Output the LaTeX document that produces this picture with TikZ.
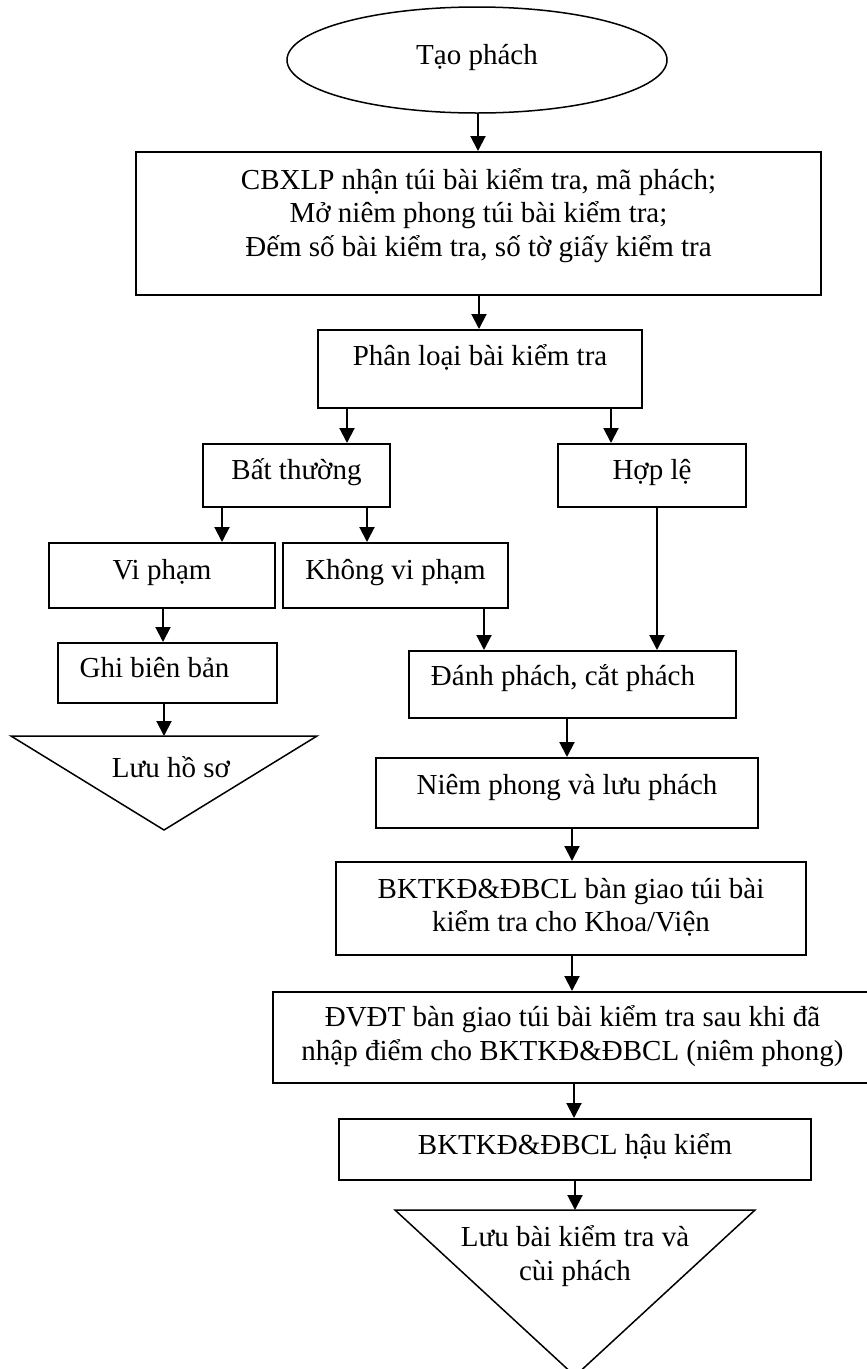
\documentclass[tikz,border=0pt]{standalone}
\usepackage{fontspec}
\setmainfont{Liberation Serif}
\usetikzlibrary{arrows.meta, shapes.geometric}

\begin{document}
\begin{tikzpicture}[x=1pt, y=-1pt, line width=2pt,
  font=\fontsize{29}{33.5}\selectfont,
  box/.style={draw, align=center, inner sep=0pt},
  keep/.style={align=center, inner sep=0pt},
  arr/.style={-{Triangle[length=15pt, width=15pt]}}]
  \useasboundingbox (0,0) rectangle (867,1369);

  \node[ellipse, draw, line width=1.5pt, inner sep=0pt, minimum width=380pt, minimum height=106pt,
        text height=21pt, text depth=13pt] (start) at (477,60) {Tạo phách};
  \node[box, minimum width=685pt, minimum height=143pt, text depth=23pt] (recv) at (478.5,223.5)
    {CBXLP nhận túi bài kiểm tra, mã phách;\\ Mở niêm phong túi bài kiểm tra;\\ Đếm số bài kiểm tra, số tờ giấy kiểm tra};
  \node[box, minimum width=324pt, minimum height=78pt, text height=21pt, text depth=29pt] (classify) at (480,369) {Phân loại bài kiểm tra};
  \node[box, minimum width=187pt, minimum height=63pt, text height=21pt, text depth=14pt] (abnormal) at (296.5,475.5) {Bất thường};
  \node[box, minimum width=188pt, minimum height=63pt, text height=21pt, text depth=14pt] (valid) at (652,475.5) {Hợp lệ};
  \node[box, minimum width=226pt, minimum height=65pt, text height=21pt, text depth=14pt] (violate) at (162,575.5) {Vi phạm};
  \node[box, minimum width=225pt, minimum height=65pt, text height=21pt, text depth=14pt] (noviolate) at (395.5,575.5) {Không vi phạm};
  \node[box, minimum width=219pt, minimum height=60pt, text height=21pt, text depth=13pt] (record) at (167.5,673) {Ghi biên bản\hspace*{26pt}};
  \node[keep, minimum width=304pt, minimum height=92pt, text height=21pt, text depth=33pt] (keep1) at (164,783) {\hspace*{14pt}Lưu hồ sơ};
  \node[box, minimum width=327pt, minimum height=67pt, text height=21pt, text depth=20pt] (cut) at (572.5,684.5) {Đánh phách, cắt phách\hspace*{19pt}};
  \node[box, minimum width=382pt, minimum height=70pt, text height=21pt, text depth=19pt] (sealbox) at (567,793) {Niêm phong và lưu phách};
  \node[box, minimum width=470pt, minimum height=93pt, text depth=7pt] (handover) at (571,908.5)
    {BKTKĐ\&ĐBCL bàn giao túi bài\\ kiểm tra cho Khoa/Viện};
  \node[box, minimum width=599pt, minimum height=91pt, text depth=9pt] (dvdt) at (572.5,1037.5)
    {ĐVĐT bàn giao túi bài  kiểm tra sau khi đã\\ nhập điểm cho BKTKĐ\&ĐBCL (niêm phong)};
  \node[box, minimum width=472pt, minimum height=61pt, text height=21pt, text depth=12pt] (postcheck) at (575,1149.5) {BKTKĐ\&ĐBCL hậu kiểm};
  \node[keep, minimum width=358pt, minimum height=164pt, text depth=80pt] (keep2) at (575,1293)
    {Lưu bài kiểm tra và\\ cùi phách};

  \draw[line width=1.5pt] (keep1.north west) -- (keep1.north east) -- (keep1.south) -- cycle;
  \draw[line width=1.5pt] (keep2.north west) -- (keep2.north east) -- (keep2.south) -- cycle;

  \foreach \a/\b/\x in {start/recv/478, recv/classify/479, classify/abnormal/347, classify/valid/611,
      abnormal/violate/222, abnormal/noviolate/367, violate/record/163, record/keep1/164,
      noviolate/cut/484, valid/cut/657, cut/sealbox/567, sealbox/handover/572,
      handover/dvdt/572, dvdt/postcheck/574, postcheck/keep2/575}
    \draw[arr] (\a.south -| \x,0) -- (\b.north -| \x,0);
\end{tikzpicture}
\end{document}
